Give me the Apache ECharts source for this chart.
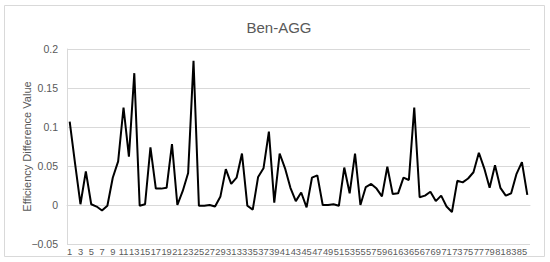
<!DOCTYPE html>
<html>
<head>
<meta charset="utf-8">
<script src="https://cdn.jsdelivr.net/npm/echarts@6/dist/echarts.min.js"></script>
<style>
  html, body { margin: 0; padding: 0; background: #fff; }
  #chart { width: 550px; height: 262px; }
</style>
</head>
<body>
<div id="chart"></div>
<script>
const categories = []
for (let i = 1; i <= 86; i++) categories.push(String(i))

const effDiff = [
  0.107, 0.053, 0.001, 0.043, 0.001, -0.002, -0.007, -0.001, 0.035, 0.056,
  0.125, 0.062, 0.169, -0.001, 0.001, 0.074, 0.021, 0.021, 0.022, 0.078,
  0.000, 0.018, 0.041, 0.185, -0.001, -0.001, 0.000, -0.002, 0.011, 0.046,
  0.027, 0.035, 0.066, -0.001, -0.006, 0.036, 0.047, 0.094, 0.003, 0.066,
  0.047, 0.022, 0.005, 0.016, -0.003, 0.035, 0.038, 0.000, 0.000, 0.001,
  -0.001, 0.048, 0.015, 0.066, 0.000, 0.023, 0.027, 0.021, 0.011, 0.049,
  0.014, 0.015, 0.035, 0.032, 0.125, 0.010, 0.012, 0.017, 0.005, 0.012,
  -0.002, -0.009, 0.031, 0.029, 0.034, 0.042, 0.067, 0.047, 0.022, 0.051,
  0.022, 0.012, 0.015, 0.040, 0.055, 0.013
]

const textColor = '#595959'
const font = 'Liberation Sans'

const chart = echarts.init(document.getElementById('chart'), null, { renderer: 'svg' })

chart.setOption({
  animation: false,
  backgroundColor: '#fff',
  graphic: [{
    type: 'rect',
    shape: { x: 4.5, y: 5.5, width: 540, height: 251 },
    style: { fill: 'none', stroke: '#d9d9d9', lineWidth: 1 },
    silent: true
  }],
  title: {
    text: 'Ben-AGG',
    left: 274,
    top: 15,
    textAlign: 'center',
    textStyle: { fontFamily: font, fontSize: 15, fontWeight: 'normal', color: textColor }
  },
  grid: { left: 67, right: 20, top: 49, bottom: 18, containLabel: false },
  xAxis: {
    type: 'category',
    data: categories,
    boundaryGap: true,
    axisLine: { onZero: true, lineStyle: { color: '#d9d9d9' } },
    axisTick: { show: false },
    axisLabel: {
      interval: 1,
      hideOverlap: false,
      color: textColor,
      fontFamily: font,
      fontSize: 9.3,
      margin: 3
    },
    splitLine: { show: false }
  },
  yAxis: {
    type: 'value',
    min: -0.05,
    max: 0.2,
    interval: 0.05,
    name: 'Efficiency Difference Value',
    nameLocation: 'middle',
    nameGap: 35,
    nameMoveOverlap: false,
    nameTextStyle: { fontFamily: font, fontSize: 11, color: textColor },
    axisLine: { show: true, lineStyle: { color: '#d9d9d9' } },
    axisTick: { show: false },
    axisLabel: {
      color: textColor,
      fontFamily: font,
      fontSize: 10.5,
      margin: 9,
      formatter: v => {
        const r = Math.round(v * 100) / 100
        return r < 0 ? '\u2212' + String(-r) : String(r)
      }
    },
    splitLine: { lineStyle: { color: '#d9d9d9' } }
  },
  series: [{
    type: 'line',
    data: effDiff,
    symbol: 'none',
    lineStyle: { color: '#000', width: 2 },
    itemStyle: { color: '#000' }
  }]
})
</script>
</body>
</html>
